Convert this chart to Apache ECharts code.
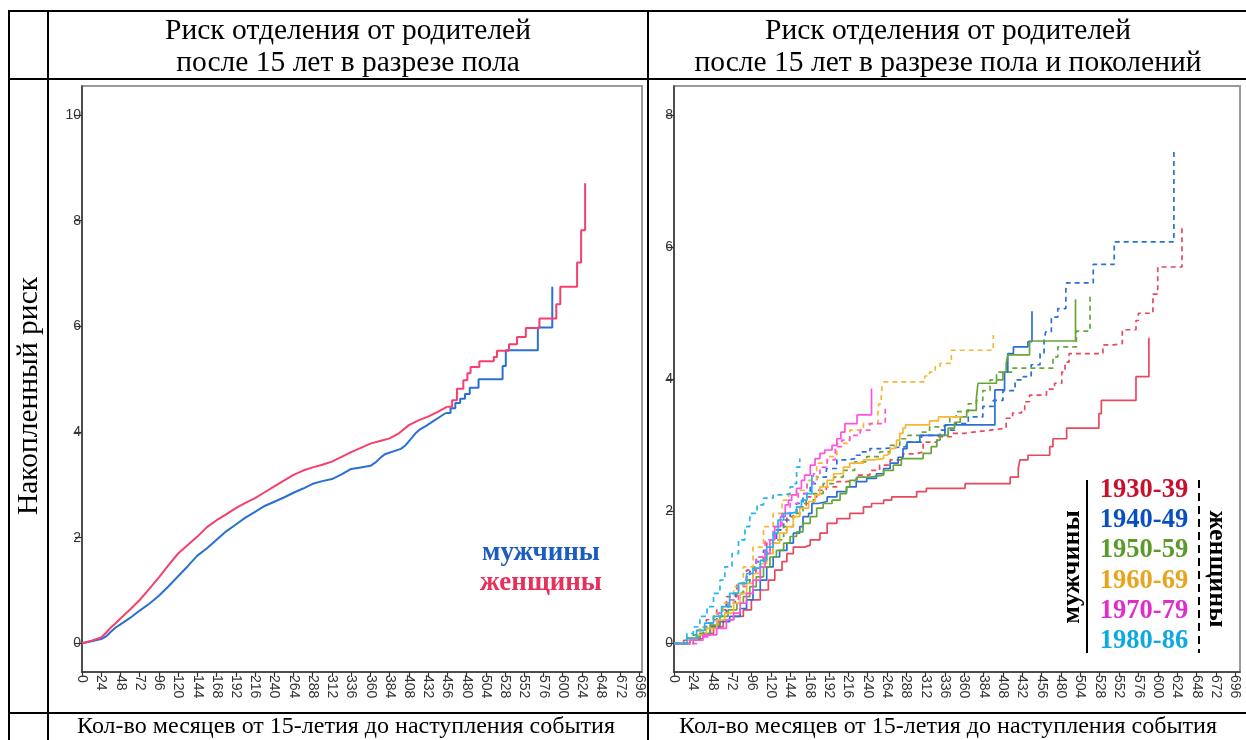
<!DOCTYPE html>
<html><head><meta charset="utf-8">
<script src="https://cdn.jsdelivr.net/npm/echarts@6/dist/echarts.min.js"></script>
<style>html,body{margin:0;padding:0;background:#fff}#c{width:1246px;height:740px}</style>
</head><body><div id="c"></div>
<script>
// ---- tick labels ----
const xTicks = [0,24,48,72,96,120,144,168,192,216,240,264,288,312,336,360,384,408,432,456,480,504,528,552,576,600,624,648,672,696];
const yTicksLeft = [0,2,4,6,8,10];
const yTicksRight = [0,2,4,6,8];

// ---- texts ----
const titleLeft = ['Риск отделения от родителей', 'после 15 лет в разрезе пола'];
const titleRight = ['Риск отделения от родителей', 'после 15 лет в разрезе пола и поколений'];
const yTitle = 'Накопленный риск';
const xTitle = 'Кол-во месяцев от 15-летия до наступления события';
const sexLabels = ['мужчины', 'женщины'];
const cohortLabels = ['1930-39','1940-49','1950-59','1960-69','1970-79','1980-86'];

// ---- left panel: [month, cumulative hazard] ----
const menAll = [[0,0],[12,0.04],[24,0.08],[30,0.13],[36,0.22],[42,0.3],[48,0.36],[60,0.48],[72,0.62],[84,0.75],[96,0.9],[108,1.08],[120,1.27],[132,1.46],[144,1.66],[156,1.8],[168,1.96],[180,2.12],[192,2.25],[204,2.38],[216,2.49],[228,2.6],[240,2.68],[252,2.76],[264,2.85],[276,2.93],[288,3.02],[300,3.07],[312,3.11],[324,3.2],[336,3.3],[348,3.33],[360,3.36],[366,3.42],[373,3.52],[378,3.58],[398,3.68],[404,3.75],[410,3.86],[416,3.97],[422,4.05],[430,4.12],[438,4.2],[446,4.28],[454,4.36],[460,4.45],[466,4.55],[472,4.63],[478,4.72],[484,4.84],[495,5.0],[525,5.25],[529,5.55],[569,5.98],[587,6.75]];
const womenAll = [[0,0],[12,0.05],[24,0.11],[30,0.2],[36,0.3],[42,0.38],[48,0.47],[60,0.64],[72,0.82],[84,1.03],[96,1.25],[108,1.48],[120,1.7],[132,1.86],[144,2.02],[156,2.2],[168,2.33],[180,2.44],[192,2.56],[204,2.66],[216,2.75],[228,2.86],[240,2.97],[252,3.08],[264,3.19],[276,3.27],[288,3.33],[300,3.38],[312,3.44],[324,3.53],[336,3.62],[348,3.7],[360,3.78],[372,3.83],[384,3.88],[396,3.98],[408,4.13],[420,4.22],[432,4.29],[444,4.38],[456,4.48],[462,4.6],[468,4.82],[476,4.98],[481,5.11],[485,5.23],[496,5.34],[514,5.42],[518,5.54],[533,5.66],[543,5.8],[554,5.97],[571,6.15],[592,6.42],[597,6.75],[618,7.21],[623,7.82],[628,8.71]];
// month after which the left-panel curves are drawn as visible steps
const menStepFrom = 454;
const womenStepFrom = 456;

// ---- right panel: men (solid) ----
const men1930 = [[0,0],[12,0.05],[28,0.08],[36,0.15],[49,0.25],[61,0.36],[74,0.41],[86,0.51],[96,0.66],[107,0.81],[117,0.96],[125,1.11],[134,1.24],[140,1.36],[148,1.46],[162,1.49],[169,1.57],[181,1.67],[190,1.82],[202,1.89],[218,1.97],[235,2.07],[245,2.12],[260,2.17],[270,2.22],[301,2.3],[313,2.35],[361,2.42],[417,2.52],[427,2.65],[429,2.78],[439,2.85],[466,2.98],[470,3.1],[487,3.26],[527,3.48],[530,3.68],[573,4.04],[589,4.63]];
const men1940 = [[0,0],[20,0.05],[32,0.13],[45,0.25],[57,0.33],[69,0.41],[82,0.53],[90,0.66],[98,0.81],[107,0.96],[115,1.16],[123,1.31],[131,1.41],[140,1.52],[148,1.67],[156,1.77],[160,1.92],[167,1.97],[171,2.12],[179,2.15],[190,2.22],[202,2.3],[214,2.37],[226,2.45],[239,2.5],[251,2.57],[260,2.65],[268,2.73],[278,2.82],[284,2.95],[289,3.05],[305,3.15],[336,3.31],[398,3.84],[410,4.11],[414,4.39],[421,4.49],[439,4.57],[444,5.03]];
const men1950 = [[0,0],[20,0.08],[32,0.15],[45,0.28],[57,0.41],[67,0.51],[78,0.61],[86,0.71],[94,0.86],[102,1.01],[111,1.16],[119,1.31],[127,1.41],[136,1.52],[144,1.62],[152,1.69],[160,1.82],[169,1.92],[177,2.05],[185,2.12],[196,2.17],[206,2.27],[214,2.37],[218,2.47],[227,2.52],[243,2.55],[260,2.62],[272,2.7],[282,2.8],[309,2.88],[319,2.98],[326,3.08],[330,3.15],[340,3.26],[348,3.35],[355,3.43],[363,3.53],[375,3.71],[377,3.94],[400,3.99],[408,4.11],[412,4.24],[414,4.37],[441,4.58],[498,5.21]];
const men1960 = [[0,0],[16,0.05],[28,0.13],[40,0.23],[53,0.36],[63,0.46],[74,0.61],[82,0.76],[90,0.91],[98,1.06],[107,1.21],[115,1.36],[123,1.52],[131,1.67],[140,1.77],[148,1.92],[156,2.05],[167,2.15],[175,2.25],[181,2.37],[190,2.47],[198,2.57],[210,2.67],[218,2.73],[235,2.78],[247,2.8],[260,2.85],[264,2.88],[268,2.95],[272,2.98],[276,3.08],[280,3.18],[284,3.26],[287,3.31],[317,3.37],[328,3.43],[357,3.45]];
const men1970 = [[0,0],[20,0.05],[36,0.13],[53,0.23],[65,0.36],[74,0.46],[82,0.61],[90,0.76],[98,0.96],[107,1.16],[113,1.36],[119,1.57],[125,1.77],[132,1.92],[138,2.1],[142,2.17],[146,2.25],[152,2.35],[158,2.47],[162,2.55],[169,2.7],[175,2.8],[181,2.88],[187,2.93],[196,3.0],[202,3.1],[207,3.2],[212,3.33],[227,3.46],[245,3.86]];
const men1980 = [[0,0],[16,0.08],[28,0.2],[38,0.31],[49,0.41],[59,0.56],[69,0.76],[80,0.91],[90,1.06],[98,1.14],[107,1.26],[115,1.46],[123,1.67],[129,1.87],[136,1.97],[144,1.99],[152,2.07],[158,2.17],[165,2.27],[171,2.55]];

// ---- right panel: women (dashed) ----
const women1930 = [[0,0],[16,0.08],[28,0.2],[40,0.36],[53,0.51],[65,0.71],[78,0.91],[90,1.11],[102,1.31],[115,1.52],[127,1.72],[140,1.92],[152,2.07],[164,2.22],[177,2.32],[189,2.37],[202,2.45],[214,2.47],[226,2.55],[243,2.62],[255,2.7],[268,2.78],[284,2.87],[299,2.9],[309,3.05],[326,3.13],[344,3.18],[359,3.2],[371,3.23],[392,3.26],[412,3.41],[420,3.49],[431,3.53],[435,3.66],[441,3.76],[462,3.85],[472,3.94],[481,4.11],[485,4.26],[490,4.39],[532,4.52],[545,4.54],[556,4.75],[573,4.89],[576,5.0],[594,5.29],[600,5.7],[630,6.31]];
const women1940 = [[0,0],[16,0.08],[28,0.15],[40,0.31],[53,0.46],[65,0.61],[76,0.76],[86,0.91],[94,1.09],[102,1.24],[111,1.41],[119,1.57],[127,1.72],[136,1.87],[144,1.97],[152,2.12],[160,2.27],[169,2.42],[177,2.52],[189,2.65],[202,2.78],[214,2.8],[226,2.85],[231,2.9],[243,2.95],[259,2.98],[288,3.05],[307,3.15],[330,3.23],[348,3.33],[365,3.43],[383,3.59],[396,3.68],[408,3.83],[423,3.99],[433,4.04],[443,4.22],[454,4.39],[459,4.59],[461,4.72],[468,4.94],[476,5.07],[486,5.35],[487,5.46],[520,5.74],[546,6.08],[620,7.45]];
const women1950 = [[0,0],[24,0.13],[36,0.25],[49,0.41],[61,0.56],[74,0.76],[86,0.96],[98,1.16],[111,1.36],[123,1.57],[136,1.77],[148,1.97],[160,2.12],[173,2.27],[185,2.42],[198,2.52],[210,2.62],[224,2.75],[239,2.83],[255,2.9],[268,3.0],[280,3.1],[290,3.15],[305,3.2],[317,3.28],[330,3.31],[342,3.43],[350,3.51],[365,3.63],[375,3.68],[383,3.83],[392,3.99],[400,4.11],[419,4.17],[470,4.34],[476,4.49],[499,4.73],[516,5.3]];
const women1960 = [[0,0],[16,0.08],[32,0.23],[49,0.46],[61,0.61],[74,0.86],[86,1.16],[98,1.46],[111,1.77],[123,1.97],[134,2.17],[142,2.25],[152,2.32],[165,2.47],[177,2.73],[190,2.83],[202,3.03],[218,3.23],[235,3.33],[253,3.53],[254,3.63],[257,3.73],[258,3.88],[260,3.96],[311,4.05],[317,4.11],[324,4.19],[330,4.24],[344,4.44],[396,4.67]];
const women1970 = [[0,0],[28,0.1],[45,0.31],[55,0.46],[67,0.66],[80,0.86],[90,1.06],[102,1.31],[113,1.57],[123,1.77],[134,1.97],[144,2.12],[154,2.27],[165,2.42],[173,2.57],[181,2.67],[190,2.78],[200,2.98],[208,3.08],[218,3.15],[231,3.23],[243,3.33],[262,3.56]];
const women1980 = [[0,0],[16,0.15],[24,0.25],[32,0.41],[41,0.56],[49,0.76],[57,0.96],[63,1.16],[72,1.36],[80,1.57],[88,1.77],[94,1.97],[103,2.1],[111,2.2],[123,2.25],[136,2.27],[144,2.37],[148,2.42],[152,2.67],[156,2.8]];

const menCohorts = [men1930, men1940, men1950, men1960, men1970, men1980];
const womenCohorts = [women1930, women1940, women1950, women1960, women1970, women1980];

// ---- styling ----
const lineColors = ['#e8485e','#2b6fd6','#66a637','#f7b733','#ff52e2','#1fb6ef'];
const textColors = ['#c8102e','#0a4fc0','#5a9a28','#e8a41c','#e02ccb','#0ea9e2'];
const serif = '"Liberation Serif","DejaVu Serif",serif';
const sans = '"Liberation Sans",Arial,sans-serif';

function xAxisCfg(gi, max) {
  return {
    type: 'value', gridIndex: gi, min: 0, max: max,
    axisLine: { onZero: false, lineStyle: { color: '#333', width: 1.5 } },
    axisTick: { customValues: xTicks, length: 5, lineStyle: { color: '#333', width: 1.2 } },
    axisLabel: { customValues: xTicks, rotate: -90, margin: 3, color: '#333', fontSize: 14, fontFamily: sans },
    splitLine: { show: false }
  };
}
function yAxisCfg(gi, min, max, ticks) {
  return {
    type: 'value', gridIndex: gi, min: min, max: max,
    axisLine: { show: true, onZero: false, lineStyle: { color: '#333', width: 1.5 } },
    axisTick: { show: true, customValues: ticks, length: 7, lineStyle: { color: '#333', width: 1.2 } },
    axisLabel: { customValues: ticks, margin: 1, color: '#333', fontSize: 14, fontFamily: sans },
    splitLine: { show: false }
  };
}

const leftBlue = '#2a70d4', leftPink = '#f5406d';
const series = [
  { type: 'line', xAxisIndex: 0, yAxisIndex: 0, showSymbol: false, data: menAll.filter(p => p[0] <= menStepFrom),
    lineStyle: { color: leftBlue, width: 2 } },
  { type: 'line', xAxisIndex: 0, yAxisIndex: 0, step: 'end', showSymbol: false, data: menAll.filter(p => p[0] >= menStepFrom),
    lineStyle: { color: leftBlue, width: 2 } },
  { type: 'line', xAxisIndex: 0, yAxisIndex: 0, showSymbol: false, data: womenAll.filter(p => p[0] <= womenStepFrom),
    lineStyle: { color: leftPink, width: 2 } },
  { type: 'line', xAxisIndex: 0, yAxisIndex: 0, step: 'end', showSymbol: false, data: womenAll.filter(p => p[0] >= womenStepFrom),
    lineStyle: { color: leftPink, width: 2 } }
];
womenCohorts.forEach((d, i) => series.push({
  type: 'line', xAxisIndex: 1, yAxisIndex: 1, step: 'end', showSymbol: false, data: d,
  lineStyle: { color: lineColors[i], width: 1.7, type: [5, 4] }
}));
menCohorts.forEach((d, i) => series.push({
  type: 'line', xAxisIndex: 1, yAxisIndex: 1, step: 'end', showSymbol: false, data: d,
  lineStyle: { color: lineColors[i], width: 1.7 }
}));

function hLine(x1, x2, y) { return { type: 'line', shape: { x1: x1, y1: y, x2: x2, y2: y }, style: { stroke: '#000', lineWidth: 2 }, z: 100 }; }
function vLine(x, y1, y2, dash) { return { type: 'line', shape: { x1: x, y1: y1, x2: x, y2: y2 }, style: { stroke: '#000', lineWidth: 2, lineDash: dash || null }, z: 100 }; }
function txt(s, x, y, size, color, opts) {
  opts = opts || {};
  return { type: 'text', x: x, y: y, rotation: opts.rot || 0, z: 100,
    style: { text: s, fill: color, font: (opts.bold ? 'bold ' : '') + size + 'px ' + serif, align: 'center', verticalAlign: 'middle' } };
}

const graphics = [
  hLine(9, 1246, 11), hLine(9, 1246, 79), hLine(9, 1246, 713),
  vLine(9, 10, 740), vLine(48, 10, 740), vLine(648, 10, 740),
  txt(titleLeft[0], 348, 31, 29.5, '#000'), txt(titleLeft[1], 348, 63, 29.5, '#000'),
  txt(titleRight[0], 948, 31, 29.5, '#000'), txt(titleRight[1], 948, 63, 29.5, '#000'),
  txt(yTitle, 29, 396, 29.5, '#000', { rot: Math.PI / 2 }),
  txt(xTitle, 346, 727, 24, '#000'), txt(xTitle, 948, 727, 24, '#000'),
  txt(sexLabels[0], 541, 553, 27, '#1a5cc0', { bold: true }),
  txt(sexLabels[1], 541, 583, 27, '#e8305c', { bold: true }),
  vLine(1087, 480, 653), vLine(1199, 480, 653, [8, 5]),
  txt(sexLabels[0], 1072, 567, 26, '#000', { bold: true, rot: Math.PI / 2 }),
  txt(sexLabels[1], 1217, 569, 26, '#000', { bold: true, rot: -Math.PI / 2 })
];
cohortLabels.forEach((s, i) => graphics.push(txt(s, 1144, 490 + i * 30.3, 26.5, textColors[i], { bold: true })));

const chart = echarts.init(document.getElementById('c'), null, { renderer: 'canvas' });
chart.setOption({
  animation: false,
  backgroundColor: '#fff',
  grid: [
    { left: 82, top: 86, width: 560, height: 586, show: true, borderColor: '#9a9a9a', borderWidth: 2, containLabel: false },
    { left: 674, top: 86, width: 566, height: 586, show: true, borderColor: '#9a9a9a', borderWidth: 2, containLabel: false }
  ],
  xAxis: [xAxisCfg(0, 699), xAxisCfg(1, 702)],
  yAxis: [yAxisCfg(0, -0.543, 10.55, yTicksLeft), yAxisCfg(1, -0.431, 8.44, yTicksRight)],
  series: series,
  graphic: graphics
});
</script></body></html>
